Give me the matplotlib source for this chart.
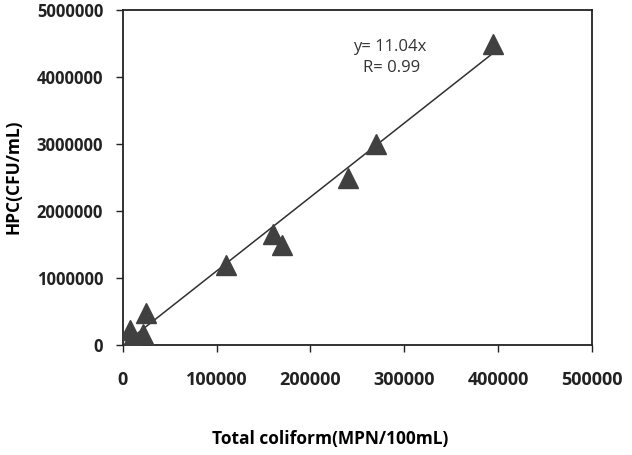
import numpy as np
import matplotlib
matplotlib.use("Agg")
import matplotlib.pyplot as plt

# data
coliform = [395000, 270000, 240000, 160000, 170000, 110000, 25000, 8000, 22000, 10000]
hpc = [4500000, 3000000, 2500000, 1650000, 1500000, 1200000, 480000, 230000, 170000, 100000]
slope = 11.04
r_value = 0.99

x_ticks = [0, 100000, 200000, 300000, 400000, 500000]
y_ticks = [0, 1000000, 2000000, 3000000, 4000000, 5000000]

plt.rcParams['font.family'] = ['Open Sans', 'DejaVu Sans']

fig = plt.figure(figsize=(6.32, 4.55), dpi=100)
ax = fig.add_axes([122.7 / 632, 1 - 345 / 455, (592 - 122.7) / 632, (345 - 10) / 455])

ax.plot(coliform, hpc, '^', color='#404040', markersize=14, zorder=3)

# fitted line through origin
xfit = np.array([min(coliform), max(coliform) - 3000])
ax.plot(xfit, slope * xfit, color='#303030', linewidth=1.1, zorder=2)

ax.text(0.570, 0.89, "y= %.2fx" % slope, transform=ax.transAxes,
        ha='center', va='center', fontsize=12, color='#333333')
ax.text(0.573, 0.828, "R= %.2f" % r_value, transform=ax.transAxes,
        ha='center', va='center', fontsize=12, color='#333333')

ax.set_xlim(0, 500000)
ax.set_ylim(0, 5000000)
ax.set_xticks(x_ticks)
ax.set_yticks(y_ticks)
ax.set_xticklabels([str(v) for v in x_ticks], fontweight='bold', fontsize=13)
ax.set_yticklabels([str(v) for v in y_ticks], fontweight='bold', fontsize=12)
ax.tick_params(direction='out', length=5, width=1, colors='#222222')
ax.tick_params(axis='x', pad=14)
ax.tick_params(axis='y', pad=9)
for s in ax.spines.values():
    s.set_linewidth(1.3)
    s.set_color('#222222')

ax.set_xlabel("Total coliform(MPN/100mL)", fontweight='bold', fontsize=12.5)
ax.set_ylabel("HPC(CFU/mL)", fontweight='bold', fontsize=12.5)
ax.xaxis.set_label_coords(0.442, -0.255)
ax.yaxis.set_label_coords(-0.213, 0.503)

fig.savefig("out.png", dpi=100)
